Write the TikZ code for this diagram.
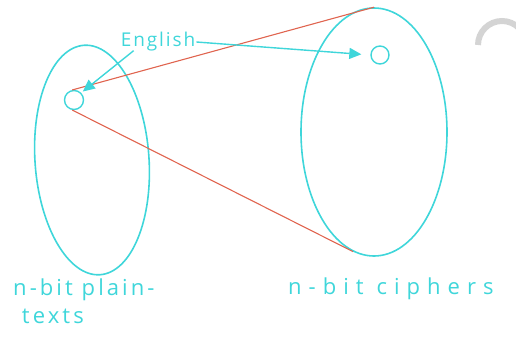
\documentclass[tikz,border=0pt]{standalone}
\usepackage{fontspec}
\setsansfont{Open Sans}
\usetikzlibrary{arrows.meta,shapes.geometric}
\definecolor{skCyan}{HTML}{3FD6DA}
\definecolor{skRed}{HTML}{E0644F}
\definecolor{skGray}{HTML}{D4D4D4}
\begin{document}
\begin{tikzpicture}[
  x=1pt,y=1pt,
  every node/.style={font=\sffamily,text=skCyan},
  space/.style={ellipse,draw=skCyan,line width=1.6pt,inner sep=0pt},
  dot/.style={circle,draw=skCyan,line width=1.4pt,inner sep=0pt},
  link/.style={draw=skRed,line width=1.1pt},
  pointer/.style={-{Triangle[length=12pt,width=11pt]},draw=skCyan,line width=1.4pt},
  lbl/.style={align=left,inner sep=0pt,font=\sffamily\fontsize{22}{28}\selectfont}
]
  \useasboundingbox (0,0) rectangle (516,-340);
  \node[space,minimum width=114,minimum height=230,rotate=4] (plain) at (92,-160) {};
  \node[space,minimum width=146,minimum height=248] (cipher) at (374,-132) {};
  \node[dot,minimum size=19] (p) at (74,-100) {};
  \node[dot,minimum size=18] (c) at (380,-55) {};
  \node[inner sep=1pt,font=\sffamily\fontsize{19}{22}\selectfont\addfontfeature{LetterSpace=10}] (eng) at (158,-42) {English};

  \draw[link] (p.100) -- (cipher.north);
  \draw[link] (p.260) -- (cipher.260);
  \draw[pointer,shorten >=2pt] (eng.south west) ++(14,2) coordinate (eng-tail) -- (p.north east);
  \draw[pointer,shorten >=9pt] (eng.east) -- (c.west);

  % scan mark at the edge
  \draw[skGray,line width=6pt] (478,-45) arc (180:0:24);

  \node[lbl,anchor=north west] (plain-lbl) at (13,-279)
    {\addfontfeature{LetterSpace=14}n-bit plain-\\\addfontfeature{LetterSpace=14}\ texts};
  \node[lbl,anchor=west] (cipher-lbl) at (288,-289)
    {\addfontfeature{LetterSpace=32}n-bit\ ciphers};
\end{tikzpicture}
\end{document}
